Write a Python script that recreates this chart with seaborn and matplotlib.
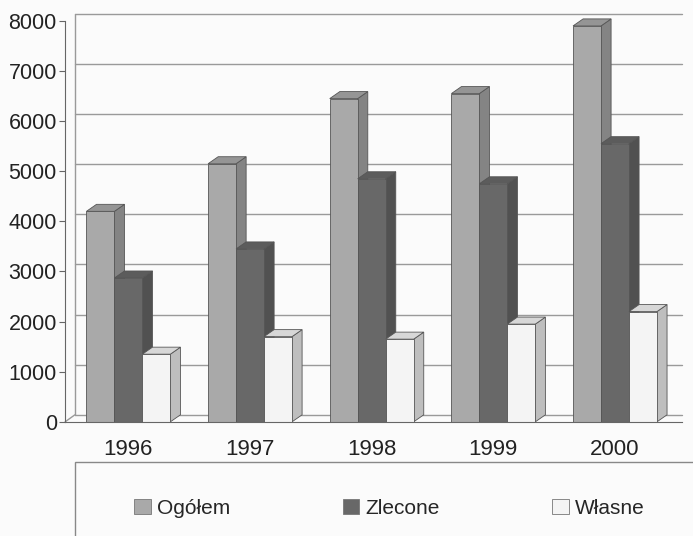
import pandas as pd
import seaborn as sns
import matplotlib.pyplot as plt
from matplotlib.patches import Polygon, Rectangle
from matplotlib.colors import to_rgb

years = ["1996", "1997", "1998", "1999", "2000"]
series = ["Ogółem", "Zlecone", "Własne"]
ogolem = [4200, 5150, 6450, 6550, 7900]
zlecone = [2870, 3450, 4850, 4750, 5550]
wlasne = [1350, 1700, 1650, 1950, 2200]
colors = ["#a9a9a9", "#686868", "#f4f4f4"]

df = pd.DataFrame({
    "rok": years * 3,
    "seria": [s for s in series for _ in years],
    "wartosc": ogolem + zlecone + wlasne,
})

sns.set_style("white")
plt.rcParams["font.family"] = ["Liberation Sans", "DejaVu Sans"]

fig = plt.figure(figsize=(6.93, 5.36), dpi=100)
ax = fig.add_axes([0.094, 0.213, 0.89, 0.748])
fig.patch.set_facecolor("#fbfbfb")
ax.set_facecolor("#fbfbfb")

sns.barplot(data=df, x="rok", y="wartosc", hue="seria", palette=colors,
            width=0.69, dodge=True, edgecolor="#555555", linewidth=0.6,
            legend=False, ax=ax)

ax.set_ylim(0, 8000)
ax.set_yticks(range(0, 8001, 1000))
ax.set_xlim(-0.52, 4.55)
ax.set_xlabel("")
ax.set_ylabel("")

# back wall gridlines (shifted up/right like the 3D chart)
dy = 140
dxw = 0.08
for v in range(0, 8001, 1000):
    ax.plot([-0.52 + dxw, 4.55], [v + dy, v + dy], color="#9a9a9a", lw=1.0,
            zorder=0.5, clip_on=False)
ax.plot([-0.52 + dxw, -0.52 + dxw], [dy, 8000 + dy], color="#9a9a9a", lw=1.0,
        zorder=0.5, clip_on=False)
ax.plot([-0.52, -0.52 + dxw], [0, dy], color="#9a9a9a", lw=1.0, zorder=0.5,
        clip_on=False)


def shade(c, f):
    r, g, b = to_rgb(c)
    return (r * f, g * f, b * f)


# 3D faces for every bar drawn by seaborn
bars = sorted(ax.patches, key=lambda p: p.get_x())
for i, p in enumerate(bars):
    x0 = p.get_x()
    w = p.get_width()
    h = p.get_height()
    x1 = x0 + w
    dx = w * 0.36
    fc = p.get_facecolor()
    z = 2 + i * 0.01
    p.set_zorder(z + 0.005)
    side = Polygon([(x1, 0), (x1 + dx, dy), (x1 + dx, h + dy), (x1, h)],
                   closed=True, facecolor=shade(fc, 0.78), edgecolor="#555555",
                   lw=0.6, zorder=z, clip_on=False)
    top = Polygon([(x0, h), (x0 + dx, h + dy), (x1 + dx, h + dy), (x1, h)],
                  closed=True, facecolor=shade(fc, 0.88), edgecolor="#555555",
                  lw=0.6, zorder=z, clip_on=False)
    ax.add_patch(side)
    ax.add_patch(top)

for s in ["top", "right"]:
    ax.spines[s].set_visible(False)
ax.spines["left"].set_color("#666666")
ax.spines["bottom"].set_color("#666666")
ax.tick_params(axis="y", left=True, length=4, color="#666666",
               labelsize=15.5, labelcolor="#222222", pad=2)
ax.tick_params(axis="x", bottom=False, labelsize=16, labelcolor="#222222",
               pad=9)

# legend box at the bottom
fig.patches.append(Rectangle((0.108, -0.05), 0.95, 0.188,
                             transform=fig.transFigure, facecolor="none",
                             edgecolor="#888888", lw=1.0))
handles = [Rectangle((0, 0), 1, 1, facecolor=c, edgecolor="#777777", lw=0.6)
           for c in colors]
fig.legend(handles, series, ncol=3, loc="center",
           bbox_to_anchor=(0.562, 0.052), frameon=False, fontsize=15,
           columnspacing=5.4, handlelength=0.8, handleheight=0.8,
           handletextpad=0.3)

fig.savefig("out.png", dpi=100)
